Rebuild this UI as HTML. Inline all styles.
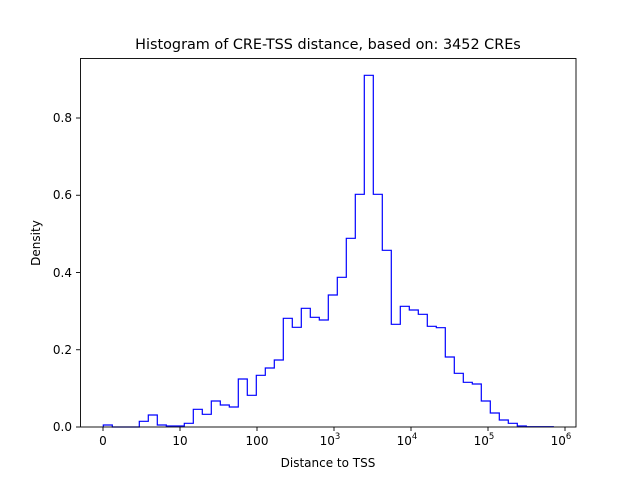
<!DOCTYPE html>
<html><head><meta charset="utf-8"><style>body{margin:0;background:#fff}svg{display:block}text{font-family:"DejaVu Sans","Liberation Sans",sans-serif;fill:#000}</style></head><body>
<svg width="640" height="480" xmlns="http://www.w3.org/2000/svg">
<rect width="640" height="480" fill="#fff"/>
<path d="M103.3,427 V425 h9 V427 h9 h9 h9 V421.3 h9 V415 h9 V425 h9 V426 h9 h9 V423.3 h9 V409.3 h9 V414.3 h9 V401 h9 V405 h9 V407 h9 V379 h9 V395.3 h9 V375.3 h9 V368 h9 V360 h9 V318.3 h9 V327.3 h9 V308.3 h9 V317.3 h9 V320 h9 V295 h9 V277.3 h9 V238.3 h9 V194.3 h9 V75.3 h9 V194.3 h9 V250.3 h9 V324.3 h9 V306.3 h9 V310 h9 V314.3 h9 V326.3 h9 V327.7 h9 V357 h9 V373.3 h9 V382.3 h9 V384 h9 V401 h9 V413 h9 V420 h9 V423.3 h9 V426 h9 V426.7 h9 h9 h9 V427" fill="none" stroke="#0000ff" stroke-width="1.2"/>
<rect x="80.5" y="58.5" width="495.5" height="368.5" fill="none" stroke="#000" stroke-width="0.9"/>
<g stroke="#000" stroke-width="0.9">
<line x1="103" y1="427" x2="103" y2="431"/><line x1="180" y1="427" x2="180" y2="431"/><line x1="257" y1="427" x2="257" y2="431"/><line x1="334" y1="427" x2="334" y2="431"/><line x1="411" y1="427" x2="411" y2="431"/><line x1="488" y1="427" x2="488" y2="431"/><line x1="565" y1="427" x2="565" y2="431"/>
<line x1="76" y1="427" x2="80" y2="427"/><line x1="76" y1="349.75" x2="80" y2="349.75"/><line x1="76" y1="272.5" x2="80" y2="272.5"/><line x1="76" y1="195.25" x2="80" y2="195.25"/><line x1="76" y1="118" x2="80" y2="118"/>
</g>
<g font-size="12" text-anchor="middle">
<text x="103" y="445">0</text><text x="180" y="445">10</text><text x="257" y="445">100</text>
<text x="330" y="445">10<tspan font-size="8.5" dy="-6">3</tspan></text>
<text x="407" y="445">10<tspan font-size="8.5" dy="-6">4</tspan></text>
<text x="484" y="445">10<tspan font-size="8.5" dy="-6">5</tspan></text>
<text x="561" y="445">10<tspan font-size="8.5" dy="-6">6</tspan></text>
</g>
<g font-size="12" text-anchor="end">
<text x="72" y="431">0.0</text><text x="72" y="354">0.2</text><text x="72" y="277">0.4</text><text x="72" y="199">0.6</text><text x="72" y="122">0.8</text>
</g>
<text x="328" y="471" font-size="12" text-anchor="middle" dy="-4">Distance to TSS</text>
<text transform="translate(40,243) rotate(-90)" font-size="12" text-anchor="middle">Density</text>
<text x="328" y="49" font-size="14.4" text-anchor="middle">Histogram of CRE-TSS distance, based on: 3452 CREs</text>
</svg>
</body></html>
